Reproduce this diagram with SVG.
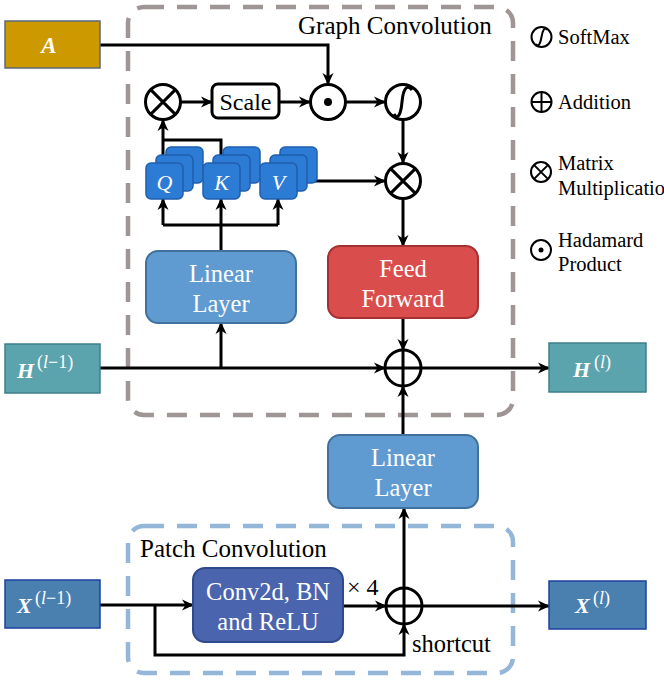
<svg xmlns="http://www.w3.org/2000/svg" width="664" height="687" viewBox="0 0 664 687" font-family="'Liberation Serif', 'DejaVu Serif', serif">
<defs>
<marker id="arr" viewBox="0 0 12 12" refX="11" refY="6" markerWidth="12" markerHeight="12" orient="auto" markerUnits="userSpaceOnUse">
<path d="M0,0.5 L12,6 L0,11.5 L3.5,6 z" fill="#000"/>
</marker>
</defs>
<style>
text{font-family:'Liberation Serif','DejaVu Serif',serif;}
.wt{fill:#fff;font-size:24.5px;text-anchor:middle;}
.lg{font-size:20.5px;fill:#000;}
.m{fill:#fff;}
.ln{fill:none;stroke:#000;stroke-width:3;}
.ar{fill:none;stroke:#000;stroke-width:3;marker-end:url(#arr);}
.op{fill:#fff;stroke:#000;stroke-width:3;}
.opi{fill:none;stroke:#000;stroke-width:3;}
.lop{fill:#fff;stroke:#000;stroke-width:2;}
.lopi{fill:none;stroke:#000;stroke-width:2;}
.qkv{fill:#2c7bd4;stroke:#1f5fae;stroke-width:1.5;}
.lin{fill:#5f9bd1;stroke:#41719c;stroke-width:2;}
</style>
<rect width="664" height="687" fill="#fff"/>

<!-- containers -->
<g id="graph-convolution">
<rect x="128" y="7" width="385" height="408" rx="16" fill="none" stroke="#a09595" stroke-width="4.5" stroke-dasharray="20 13"/>
<text x="298" y="34" font-size="25">Graph Convolution</text>
</g>
<g id="patch-convolution">
<rect x="128" y="526" width="385" height="147" rx="16" fill="none" stroke="#94b6d8" stroke-width="4.5" stroke-dasharray="20 13"/>
<text x="140" y="557" font-size="25">Patch Convolution</text>
</g>

<!-- connectors -->
<g id="connectors">
<path class="ar" d="M100,45 H328 V84"/>
<path class="ar" d="M181,102 H212"/>
<path class="ar" d="M279,102 H310"/>
<path class="ar" d="M345,102 H385"/>
<path class="ar" d="M403,119 V163"/>
<path class="ar" d="M297,181 H385"/>
<path class="ar" d="M403,198 V246"/>
<path class="ar" d="M403,318 V350"/>
<path class="ar" d="M163,163 V120"/>
<path class="ln" d="M221,163 V140 H163"/>
<path class="ln" d="M221,251 V225"/>
<path class="ln" d="M163,225 H278"/>
<path class="ar" d="M163,225 V199"/>
<path class="ar" d="M221,225 V199"/>
<path class="ar" d="M278,225 V199"/>
<path class="ar" d="M100,368 H385"/>
<path class="ar" d="M221,368 V323"/>
<path class="ar" d="M403,435 V386"/>
<path class="ar" d="M421,368 H549"/>
<path class="ar" d="M100,605 H193"/>
<path class="ar" d="M155,605 V655 H404 V624"/>
<path class="ar" d="M343,606 H386"/>
<path class="ar" d="M404,588 V508"/>
<path class="ar" d="M422,606 H549"/>
</g>

<!-- nodes -->
<g id="node-A">
<rect x="5" y="21" width="95" height="47" fill="#cc9a00" stroke="#5a6878" stroke-width="1.5"/>
<text class="m" x="49" y="53" font-size="23" font-weight="bold" font-style="italic" text-anchor="middle">A</text>
</g>
<g id="node-H-prev">
<rect x="5" y="344" width="95" height="49" fill="#5ba3ad" stroke="#3f7f89" stroke-width="1.5"/>
<text class="m" x="17" y="378" font-size="22" font-weight="bold" font-style="italic">H</text>
<text class="m" x="37" y="368" font-size="18">(<tspan font-style="italic">l</tspan>−1)</text>
</g>
<g id="node-H">
<rect x="549" y="343" width="97" height="49" fill="#5ba3ad" stroke="#3f7f89" stroke-width="1.5"/>
<text class="m" x="573" y="377" font-size="22" font-weight="bold" font-style="italic">H</text>
<text class="m" x="594" y="368" font-size="18">(<tspan font-style="italic">l</tspan>)</text>
</g>
<g id="node-X-prev">
<rect x="5" y="580" width="95" height="48" fill="#4a80b0" stroke="#1c3fa0" stroke-width="1.5"/>
<text class="m" x="17" y="613" font-size="22" font-weight="bold" font-style="italic">X</text>
<text class="m" x="35" y="604" font-size="18">(<tspan font-style="italic">l</tspan>−1)</text>
</g>
<g id="node-X">
<rect x="549" y="581" width="97" height="48" fill="#4a80b0" stroke="#1c3fa0" stroke-width="1.5"/>
<text class="m" x="575" y="613" font-size="22" font-weight="bold" font-style="italic">X</text>
<text class="m" x="593" y="604" font-size="18">(<tspan font-style="italic">l</tspan>)</text>
</g>

<g id="matmul-1">
<circle class="op" cx="163" cy="102" r="17.5"/>
<path class="opi" d="M150.6,89.6 L175.4,114.4 M175.4,89.6 L150.6,114.4"/>
</g>
<g id="scale">
<rect x="212" y="84" width="67" height="34" rx="6" fill="#fff" stroke="#000" stroke-width="3"/>
<text x="245.5" y="110" font-size="24" text-anchor="middle">Scale</text>
</g>
<g id="hadamard">
<circle class="op" cx="328" cy="102" r="17.5"/>
<circle cx="328" cy="102" r="4" fill="#000"/>
</g>
<g id="softmax">
<circle class="op" cx="403" cy="102" r="17.5"/>
<path class="opi" d="M394,114 C398,121 401,113 402,102 C403,91 406,83 412,90"/>
</g>
<g id="matmul-2">
<circle class="op" cx="403" cy="181" r="17.5"/>
<path class="opi" d="M390.6,168.6 L415.4,193.4 M415.4,168.6 L390.6,193.4"/>
</g>

<g id="Q">
<rect class="qkv" x="166" y="147" width="37" height="36" rx="5"/>
<rect class="qkv" x="156" y="155" width="37" height="36" rx="5"/>
<rect class="qkv" x="146" y="163" width="37" height="36" rx="5"/>
<text class="m" x="164.5" y="190" font-size="22" font-style="italic" text-anchor="middle">Q</text>
</g>
<g id="K">
<rect class="qkv" x="223" y="147" width="37" height="36" rx="5"/>
<rect class="qkv" x="213" y="155" width="37" height="36" rx="5"/>
<rect class="qkv" x="203" y="163" width="37" height="36" rx="5"/>
<text class="m" x="221.5" y="190" font-size="22" font-style="italic" text-anchor="middle">K</text>
</g>
<g id="V">
<rect class="qkv" x="280" y="147" width="37" height="36" rx="5"/>
<rect class="qkv" x="270" y="155" width="37" height="36" rx="5"/>
<rect class="qkv" x="260" y="163" width="37" height="36" rx="5"/>
<text class="m" x="278.5" y="190" font-size="22" font-style="italic" text-anchor="middle">V</text>
</g>

<g id="linear-layer-1">
<rect class="lin" x="146" y="251" width="150" height="72" rx="12"/>
<text class="wt" x="221" y="282">Linear</text>
<text class="wt" x="221" y="312">Layer</text>
</g>
<g id="feed-forward">
<rect x="328" y="246" width="150" height="72" rx="12" fill="#d94d4d" stroke="#a53030" stroke-width="2"/>
<text class="wt" x="403" y="277">Feed</text>
<text class="wt" x="403" y="307">Forward</text>
</g>
<g id="addition-graph">
<circle class="op" cx="403" cy="368" r="18"/>
<path class="opi" d="M385,368 H421 M403,350 V386"/>
</g>
<g id="linear-layer-2">
<rect class="lin" x="328" y="435" width="150" height="73" rx="12"/>
<text class="wt" x="403" y="466">Linear</text>
<text class="wt" x="403" y="496">Layer</text>
</g>
<g id="conv-block">
<rect x="193" y="568" width="150" height="74" rx="12" fill="#4a64ad" stroke="#2f4a8c" stroke-width="2"/>
<text class="wt" x="268" y="600">Conv2d, BN</text>
<text class="wt" x="268" y="630">and ReLU</text>
</g>
<text x="347" y="595" font-size="24">× 4</text>
<g id="addition-patch">
<circle class="op" cx="404" cy="606" r="18"/>
<path class="opi" d="M386,606 H422 M404,588 V624"/>
</g>
<text x="412" y="652" font-size="24.5">shortcut</text>

<!-- legend -->
<g id="legend">
<circle class="lop" cx="541.5" cy="37" r="10"/>
<path class="lopi" d="M536,44 C538.5,48 540.5,43 541.5,37 C542.5,31 544.5,26 547,30"/>
<text class="lg" x="558" y="44">SoftMax</text>
<circle class="lop" cx="541.5" cy="102" r="10"/>
<path class="lopi" d="M531.5,102 H551.5 M541.5,92 V112"/>
<text class="lg" x="558" y="109">Addition</text>
<circle class="lop" cx="541" cy="172" r="10"/>
<path class="lopi" d="M533.9,164.9 L548.1,179.1 M548.1,164.9 L533.9,179.1"/>
<text class="lg" x="558" y="170">Matrix</text>
<text class="lg" x="558" y="195">Multiplication</text>
<circle class="lop" cx="541" cy="250" r="10"/>
<circle cx="541" cy="250" r="2.5" fill="#000"/>
<text class="lg" x="558" y="247">Hadamard</text>
<text class="lg" x="558" y="271">Product</text>
</g>
</svg>
